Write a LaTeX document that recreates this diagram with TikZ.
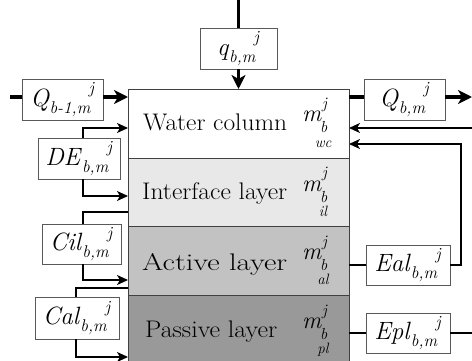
\documentclass[tikz,border=0pt]{standalone}
\usepackage{graphicx}
\usetikzlibrary{arrows.meta,calc}
\newcommand\vlab[2]{\textit{#1}\raisebox{-0.28em}{\fontsize{17}{17}\selectfont\textit{#2}}\kern-2pt\raisebox{0.5em}{\fontsize{17}{17}\selectfont\textit{j}}}
\newcommand\fitw[2]{\resizebox{#1}{\height}{#2}}
\definecolor{ilc}{gray}{0.91}
\definecolor{alc}{gray}{0.76}
\definecolor{plc}{gray}{0.60}
\tikzset{
  layer/.style={draw=black!75, line width=0.9pt, minimum width=221pt, anchor=north west, inner sep=0pt, outer sep=0pt},
  box/.style={draw=black!65, line width=0.8pt, fill=white, inner sep=0pt, outer sep=0pt, minimum height=41pt, font=\fontsize{25}{25}\selectfont},
  ltext/.style={anchor=base west, inner sep=0pt, font=\fontsize{24}{24}\selectfont},
  mbig/.style={anchor=base west, inner sep=0pt, font=\fontsize{24}{24}\selectfont\itshape},
  msmall/.style={anchor=base west, inner sep=0pt, font=\fontsize{16}{16}\selectfont\itshape},
  msub/.style={anchor=base, inner sep=0pt, font=\fontsize{15}{15}\selectfont\itshape},
  thinline/.style={line width=1.6pt},
  thinarrow/.style={line width=1.6pt, -{Stealth[length=11pt,width=10pt,inset=3pt]}},
  thickline/.style={line width=3.8pt},
  thickarrow/.style={line width=3.8pt, -{Stealth[length=14pt,width=14pt,inset=4pt]}},
}
\begin{document}
\begin{tikzpicture}[x=1pt,y=-1pt]
\useasboundingbox (0,0) rectangle (472,361);
% layers
\node[layer, fill=white, minimum height=69pt] (wc) at (128,89) {};
\node[layer, fill=ilc, minimum height=68pt] (il) at (128,158) {};
\node[layer, fill=alc, minimum height=69pt] (al) at (128,226) {};
\node[layer, fill=plc, minimum height=72pt] (pl) at (128,295) {};
% layer texts
\node[ltext] (twc) at (143,131) {\fitw{144pt}{Water column}};
\node[ltext] (til) at (142,200) {\fitw{145pt}{Interface layer}};
\node[ltext] (tal) at (142,270) {\fitw{145pt}{Active layer}};
\node[ltext] (tpl) at (145,337) {\fitw{132pt}{Passive layer}};
% m labels
\foreach \t/\s/\nm in {89/wc/mwc,158/il/mil,226/al/mal,295/pl/mpl}{
  \node[mbig] (\nm m) at (302,\t+33) {m};
  \node[msmall] (\nm j) at (322,\t+20) {j};
  \node[msmall] (\nm b) at (320,\t+44) {b};
  \node[msub] (\nm s) at (323,\t+58) {\s};
}
% boxes
\node[box, minimum width=77pt] (q) at (238.5,48.5) {\vlab{q}{b,m}};
\node[box, minimum width=81pt] (Qin) at (62.5,99.5) {\vlab{Q}{b-1,m}};
\node[box, minimum width=81pt] (Qout) at (404.5,99.5) {\vlab{Q}{b,m}};
\node[box, minimum width=82pt] (DE) at (79,158.5) {\vlab{DE}{b,m}};
\node[box, minimum width=79pt, minimum height=40pt] (Cil) at (81.5,244) {\vlab{Cil}{b,m}};
\node[box, minimum width=84pt, minimum height=42pt] (Cal) at (77,318) {\vlab{Cal}{b,m}};
\node[box, minimum width=84pt, minimum height=40pt] (Eal) at (408,265) {\vlab{Eal}{b,m}};
\node[box, minimum width=84pt, minimum height=40pt] (Epl) at (408,333) {\vlab{Epl}{b,m}};
% free ends
\coordinate (qtop) at (238.5,0);
\coordinate (Qinl) at (10,97);
\coordinate (Qoutr) at (472,97);
\coordinate (rin) at (472,128);
\coordinate (eret) at (461,144);
\coordinate (Eplr) at (472,333);
% connectors
\draw[thickline] (qtop) -- (q.north);
\draw[thickarrow] (q.south) -- (q.south |- wc.north);
\draw[thickline] (Qinl) -- (Qin.west |- Qinl);
\draw[thickarrow] (Qin.east |- Qinl) -- (wc.west |- Qinl);
\draw[thickline] (wc.east |- Qinl) -- (Qout.west |- Qinl);
\draw[thickarrow] (Qout.east |- Qinl) -- (Qoutr);
\draw[thinarrow] (rin) -- (wc.east |- rin);
\draw[thinarrow] (Eal.east) -| (eret) -- (wc.east |- eret);
\draw[thinline] (al.east |- Eal.west) -- (Eal.west);
\draw[thinline] (pl.east |- Epl.west) -- (Epl.west);
\draw[thinline] (Epl.east) -- (Eplr);
\draw[thinarrow] ([xshift=4pt]DE.north) |- ($(wc.north west)+(0,39)$);
\draw[thinarrow] ([xshift=4pt]DE.south) |- ($(il.north west)+(0,38)$);
\draw[thinline] ($(il.north west)+(0,54)$) -| ([xshift=1.5pt]Cil.north);
\draw[thinarrow] ([xshift=1.5pt]Cil.south) |- ($(al.north west)+(0,54)$);
\draw[thinline] ($(al.north west)+(0,62)$) -| ([xshift=-1pt]Cal.north);
\draw[thinarrow] ([xshift=-1pt]Cal.south) |- ($(pl.north west)+(0,62)$);
\end{tikzpicture}
\end{document}
